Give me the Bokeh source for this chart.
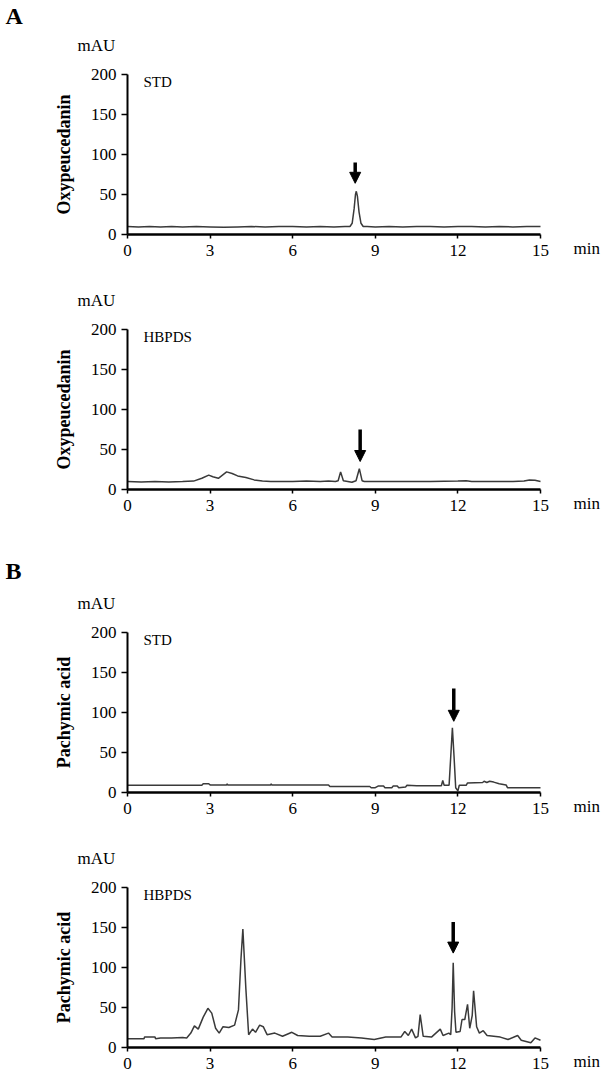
from bokeh.plotting import figure
from bokeh.layouts import column
from bokeh.models import Label, Arrow, NormalHead, FixedTicker, Range1d
from bokeh.embed import file_html
from bokeh.resources import INLINE

# ---------------- data ----------------
x_ticks = [0, 3, 6, 9, 12, 15]
y_ticks = [0, 50, 100, 150, 200]

# A: Oxypeucedanin, standard
oxy_std_t = [0, 0.4, 0.8, 1.2, 1.6, 2.0, 2.5, 3.0, 3.5, 4.0, 4.5, 5.0, 5.5, 6.0, 6.5, 7.0, 7.5, 7.9,
             8.08, 8.16, 8.23, 8.28, 8.31, 8.35, 8.41, 8.48, 8.56, 8.7, 9.0, 9.5, 10.0, 10.5, 11.0,
             11.5, 12.0, 12.5, 13.0, 13.5, 14.0, 14.5, 15.0]
oxy_std_v = [10, 9.5, 10, 9.5, 10, 9.5, 10, 9.5, 9, 9.5, 10, 9.5, 10, 10, 9.5, 10, 9.5, 10,
             10, 14, 32, 50, 54, 48, 28, 14, 10, 10, 9.5, 10, 9.5, 10, 10,
             9.5, 10, 10, 9.5, 10, 9.5, 10, 10]

# A: Oxypeucedanin, HBPDS
oxy_hb_t = [0, 0.5, 1.0, 1.5, 2.0, 2.4, 2.7, 2.95, 3.1, 3.3, 3.45, 3.6, 3.8, 4.0, 4.3, 4.6, 4.9,
            5.2, 5.6, 6.0, 6.5, 7.0, 7.3, 7.55, 7.65, 7.74, 7.84, 8.0, 8.15, 8.3, 8.42, 8.52, 8.6,
            9.0, 10.0, 11.0, 12.0, 12.3, 12.5, 13.0, 14.0, 14.4, 14.6, 14.8, 15.0]
oxy_hb_v = [10, 9.5, 10, 9.5, 10, 10.5, 14, 18, 16, 14, 18, 22, 20, 17, 15, 12, 10.5,
            10, 10, 10, 10.5, 10, 10.5, 10, 11, 22, 11, 10, 9, 11, 26, 11, 10,
            10, 10, 10, 10.5, 11, 10, 10, 10, 10.5, 12, 11.5, 10]

# B: Pachymic acid, standard
pac_std_t = [0, 2.7, 2.75, 2.95, 3.0, 3.6, 3.62, 3.64, 5.2, 5.22, 5.24, 7.3, 7.35, 8.8, 8.85,
             9.0, 9.1, 9.3, 9.35, 9.6, 9.65, 9.8, 9.85, 10.1, 10.15, 10.5, 11.4, 11.45, 11.5,
             11.68, 11.74, 11.8, 11.86, 11.92, 12.0, 12.05, 12.3, 12.35, 12.9, 12.95, 13.05,
             13.15, 13.3, 13.5, 13.75, 13.8, 15.0]
pac_std_v = [9, 9, 11, 11, 9.5, 9.5, 11, 9.5, 9.5, 11, 9.5, 9.5, 7.5, 7.5, 6,
             6, 8, 8, 6, 6, 8, 8, 6, 7, 9, 8.5, 8.5, 15, 9,
             9, 45, 81, 45, 6, 2, 9, 9, 12, 12.5, 14, 12.5,
             14, 13, 11, 9.5, 6, 6]

# B: Pachymic acid, HBPDS
pac_hb_t = [0, 0.6, 0.62, 1.0, 1.02, 1.2, 1.6, 2.0, 2.15, 2.3, 2.43, 2.57, 2.75, 2.92, 3.06, 3.2,
            3.33, 3.47, 3.68, 3.89, 4.03, 4.12, 4.19, 4.3, 4.4, 4.54, 4.65, 4.8, 4.93, 5.07, 5.35,
            5.63, 5.97, 6.18, 6.6, 7.0, 7.3, 7.43, 8.0, 8.5, 8.96, 9.38, 9.93, 10.07, 10.2, 10.32,
            10.46, 10.55, 10.63, 10.74, 11.04, 11.36, 11.46, 11.67, 11.74, 11.79, 11.83, 11.88,
            11.93, 12.08, 12.15, 12.25, 12.35, 12.43, 12.52, 12.57, 12.68, 12.78, 12.92, 13.06,
            13.54, 13.82, 14.17, 14.3, 14.65, 14.8, 15.0]
pac_hb_v = [11, 11, 13, 13, 11, 12, 12, 12.5, 12, 18, 27, 23, 38, 49, 43, 24,
            18, 26, 25, 28, 47, 110, 148, 73, 16, 23, 19, 28, 26, 16, 18,
            14, 19, 15, 14, 14, 18, 13, 13, 12, 10, 13, 13, 20, 15, 23,
            12, 14, 41, 14, 13, 23, 15, 18, 16, 50, 106, 45,
            19, 20, 35, 35, 54, 24, 40, 71, 26, 18, 21, 15,
            13, 10, 15, 9, 6, 12, 9]

# arrows marking the analyte peak: (time, arrow top, arrow tip) in mAU
oxy_std_arrow = (8.27, 90, 64)
oxy_hb_arrow = (8.45, 75, 35)
pac_std_arrow = (11.85, 130, 89)
pac_hb_arrow = (11.83, 157, 118)

# ---------------- layout / style ----------------
SERIF = "Liberation Serif"
W = 602
AXIS_X = 127                # page x of t = 0
PX_PER_MIN = 413 / 15.0     # 0..15 min spans 413 px
PX_PER_MAU = 160 / 200.0    # 0..200 mAU spans 160 px


def panel(y_top, y_bot, y_zero, t, v, ylabel, sample, arrow, letter=None, letter_y=None):
    h = y_bot - y_top
    sx = lambda X: (X - AXIS_X) / PX_PER_MIN
    sy = lambda Y: (y_zero - Y) / PX_PER_MAU
    p = figure(width=W, height=h, x_range=Range1d(sx(0), sx(W)),
               y_range=Range1d(sy(y_bot), sy(y_top)),
               output_backend="svg", toolbar_location=None, title=None,
               min_border=0, min_border_left=0, min_border_right=0,
               min_border_top=0, min_border_bottom=0)
    p.outline_line_color = None
    p.grid.visible = False
    p.background_fill_color = "white"
    p.border_fill_color = "white"

    p.line(t, v, line_color="#3a3a3a", line_width=1.5)

    ax = p.xaxis[0]
    ax.fixed_location = 0
    ax.bounds = (0, 15)
    ax.ticker = FixedTicker(ticks=x_ticks)
    ax.axis_line_width = 2.5
    ax.axis_line_color = "black"
    ax.major_tick_line_width = 1.5
    ax.major_tick_out = 4
    ax.major_tick_in = 0
    ax.minor_tick_line_color = None
    ax.major_label_standoff = 6
    ax.major_label_text_font = SERIF
    ax.major_label_text_font_size = "17px"
    ax.major_label_text_color = "black"

    ay = p.yaxis[0]
    ay.fixed_location = 0
    ay.bounds = (0, 200)
    ay.ticker = FixedTicker(ticks=y_ticks)
    ay.axis_line_width = 2
    ay.axis_line_color = "black"
    ay.major_tick_line_width = 1.5
    ay.major_tick_out = 6
    ay.major_tick_in = 0
    ay.minor_tick_line_color = None
    ay.major_label_standoff = 5
    ay.major_label_text_font = SERIF
    ay.major_label_text_font_size = "17px"
    ay.major_label_text_color = "black"
    ay.axis_label = ylabel
    ay.axis_label_text_font = SERIF
    ay.axis_label_text_font_size = "18px"
    ay.axis_label_text_font_style = "bold"
    ay.axis_label_text_color = "black"
    ay.axis_label_standoff = 14

    def lab(X, Y, text, size, style="normal"):
        p.add_layout(Label(x=sx(X), y=sy(Y), text=text,
                           text_font=SERIF, text_font_size=size, text_font_style=style,
                           text_baseline="middle", text_align="left", text_color="black"))

    y200 = y_zero - 160
    lab(77, y200 - 29, "mAU", "17px")
    lab(143, y200 + 7, sample, "15px")
    lab(573, y_zero + 14, "min", "17px")
    if letter:
        lab(5, letter_y, letter, "24px", "bold")

    at, a_top, a_tip = arrow
    p.add_layout(Arrow(end=NormalHead(size=11, fill_color="black", line_color="black", line_width=1),
                       x_start=at, y_start=a_top, x_end=at, y_end=a_tip,
                       line_width=3.5, line_color="black"))
    return p


p1 = panel(0, 282, 234, oxy_std_t, oxy_std_v, "Oxypeucedanin", "STD", oxy_std_arrow,
           letter="A", letter_y=15)
p2 = panel(282, 545, 489, oxy_hb_t, oxy_hb_v, "Oxypeucedanin", "HBPDS", oxy_hb_arrow)
p3 = panel(545, 842, 792, pac_std_t, pac_std_v, "Pachymic acid", "STD", pac_std_arrow,
           letter="B", letter_y=570)
p4 = panel(842, 1073, 1047, pac_hb_t, pac_hb_v, "Pachymic acid", "HBPDS", pac_hb_arrow)

layout = column(p1, p2, p3, p4, spacing=0)

with open("out.html", "w") as f:
    f.write(file_html(layout, INLINE))
